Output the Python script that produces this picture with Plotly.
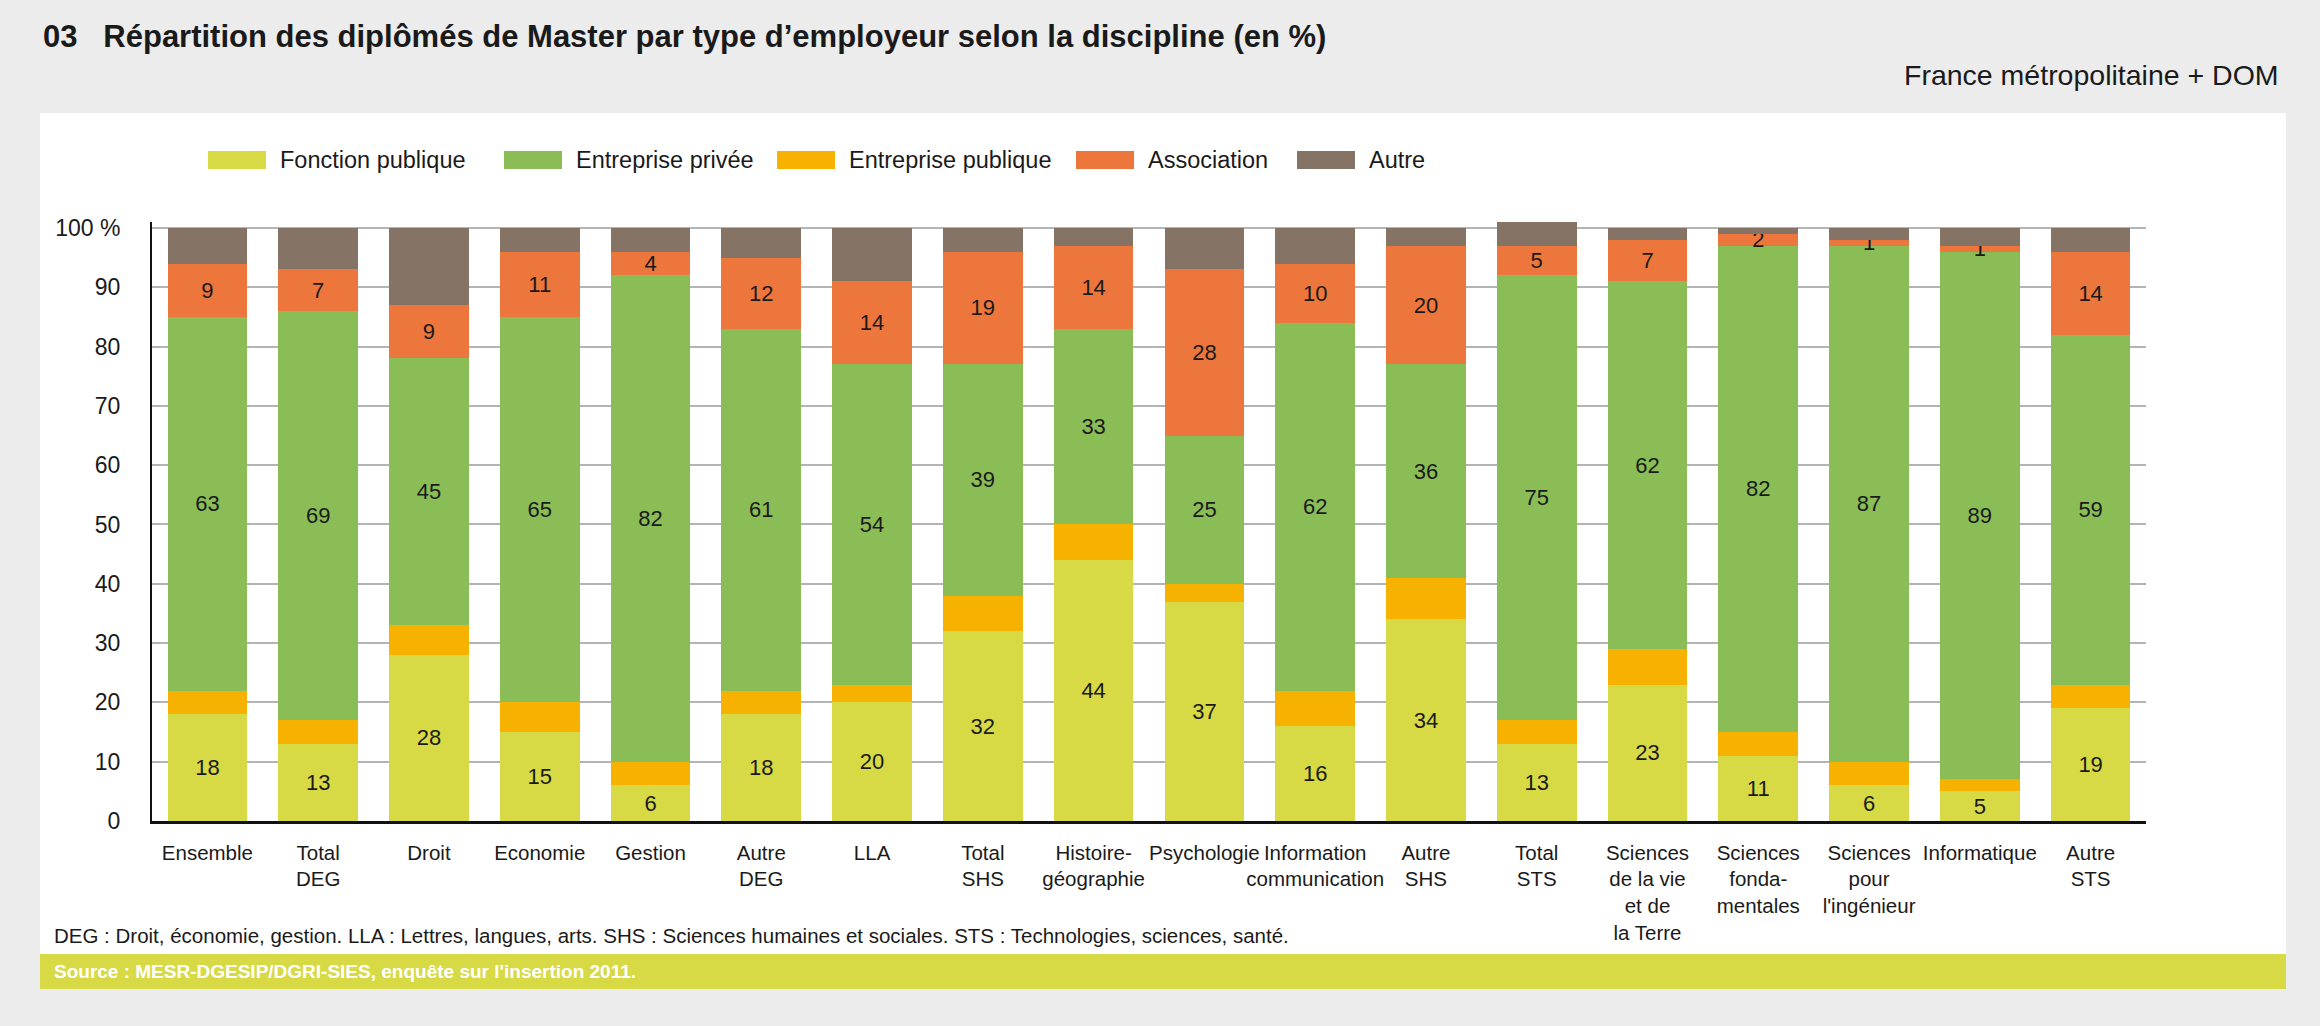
import plotly.graph_objects as go

# Values in % per discipline
categories = [
    'Ensemble', 'Total<br>DEG', 'Droit', 'Economie', 'Gestion', 'Autre<br>DEG', 'LLA',
    'Total<br>SHS', 'Histoire-<br>géographie', 'Psychologie', 'Information<br>communication',
    'Autre<br>SHS', 'Total<br>STS', 'Sciences<br>de la vie<br>et de<br>la Terre',
    'Sciences<br>fonda-<br>mentales', 'Sciences<br>pour<br>l\'ingénieur', 'Informatique',
    'Autre<br>STS',
]
fonction_publique = [18, 13, 28, 15, 6, 18, 20, 32, 44, 37, 16, 34, 13, 23, 11, 6, 5, 19]
entreprise_privee = [63, 69, 45, 65, 82, 61, 54, 39, 33, 25, 62, 36, 75, 62, 82, 87, 89, 59]
entreprise_publique = [4, 4, 5, 5, 4, 4, 3, 6, 6, 3, 6, 7, 4, 6, 4, 4, 2, 4]
association = [9, 7, 9, 11, 4, 12, 14, 19, 14, 28, 10, 20, 5, 7, 2, 1, 1, 14]
autre = [6, 7, 13, 4, 4, 5, 9, 4, 3, 7, 6, 3, 4, 2, 1, 2, 3, 4]

y_ticks = [0, 10, 20, 30, 40, 50, 60, 70, 80, 90, 100]
y_tick_labels = ['0', '10', '20', '30', '40', '50', '60', '70', '80', '90', '100 %']

# series order bottom -> top, with colour and whether values are printed
series = [
    ('Fonction publique', fonction_publique, '#d7da44', True),
    ('Entreprise publique', entreprise_publique, '#f7b200', False),
    ('Entreprise privée', entreprise_privee, '#8abd56', True),
    ('Association', association, '#ec763c', True),
    ('Autre', autre, '#857465', False),
]
legend_order = ['Fonction publique', 'Entreprise privée', 'Entreprise publique', 'Association', 'Autre']
colors = {name: color for name, _, color, _ in series}

FONT = 'Liberation Sans, Arial, Helvetica, sans-serif'
W, H = 2320, 1026
L, R, T, B = 152, 174, 222, 205
PW, PH = W - L - R, H - T - B


def px_x(x):
    return (x - L) / PW


def px_y(y):
    return 1 - (y - T) / PH


fig = go.Figure()
for name, values, color, labelled in series:
    fig.add_bar(
        x=categories,
        y=values,
        name=name,
        marker={'color': color, 'line': {'width': 0}},
        text=values if labelled else None,
        textposition='inside' if labelled else 'none',
        insidetextanchor='middle',
        textangle=0,
        constraintext='none',
        textfont={'family': FONT, 'size': 22, 'color': '#1a1a1a'},
        showlegend=False,
    )

shapes = [
    # white panel
    dict(type='rect', xref='paper', yref='paper', x0=px_x(40), x1=px_x(2286),
         y0=px_y(954), y1=px_y(113), fillcolor='white', line={'width': 0}, layer='below'),
    # source band
    dict(type='rect', xref='paper', yref='paper', x0=px_x(40), x1=px_x(2286),
         y0=px_y(989), y1=px_y(954), fillcolor='#d7da44', line={'width': 0}, layer='below'),
]
annotations = [
    dict(text='<b>03   Répartition des diplômés de Master par type d’employeur selon la discipline (en %)</b>',
         x=px_x(41), y=px_y(37), xanchor='left', yanchor='middle', font={'size': 31, 'color': '#1a1a1a'}),
    dict(text='France métropolitaine + DOM', x=px_x(2281), y=px_y(75), xanchor='right', yanchor='middle',
         font={'size': 28.5, 'color': '#1a1a1a'}),
    dict(text='DEG : Droit, économie, gestion. LLA : Lettres, langues, arts. SHS : Sciences humaines et '
              'sociales. STS : Technologies, sciences, santé.',
         x=px_x(52), y=px_y(935), xanchor='left', yanchor='middle', font={'size': 20.5, 'color': '#1a1a1a'}),
    dict(text='<b>Source : MESR-DGESIP/DGRI-SIES, enquête sur l\'insertion 2011.</b>',
         x=px_x(52), y=px_y(971), xanchor='left', yanchor='middle', font={'size': 19, 'color': 'white'}),
]

# hand-made legend with wide swatches like the original
legend_x = [208, 504, 777, 1076, 1297]
for name, lx in zip(legend_order, legend_x):
    shapes.append(dict(type='rect', xref='paper', yref='paper', x0=px_x(lx), x1=px_x(lx + 58),
                       y0=px_y(169), y1=px_y(151), fillcolor=colors[name], line={'width': 0}))
    annotations.append(dict(text=name, x=px_x(lx + 70), y=px_y(160), xanchor='left', yanchor='middle',
                            font={'size': 23.5, 'color': '#1a1a1a'}))

for a in annotations:
    a.update(xref='paper', yref='paper', showarrow=False)
    a['font'].setdefault('family', FONT)

fig.update_layout(
    width=W,
    height=H,
    barmode='stack',
    bargap=0.28,
    margin={'l': L, 'r': R, 't': T, 'b': B, 'pad': 0},
    paper_bgcolor='#ececec',
    plot_bgcolor='white',
    font={'family': FONT, 'size': 21, 'color': '#1a1a1a'},
    shapes=shapes,
    annotations=annotations,
    xaxis={
        'showline': True, 'linecolor': '#111111', 'linewidth': 3,
        'showgrid': False, 'tickfont': {'size': 20.5}, 'ticks': '', 'ticklabelstandoff': 11,
        'tickangle': 0, 'range': [-0.5, len(categories) - 0.5],
    },
    yaxis={
        'range': [0, 101], 'tickvals': y_ticks, 'ticktext': y_tick_labels,
        'showline': True, 'linecolor': '#111111', 'linewidth': 2,
        'showgrid': True, 'gridcolor': '#b4b4b4', 'gridwidth': 1.5, 'zeroline': False,
        'tickfont': {'size': 23}, 'ticks': '', 'ticklabelstandoff': 25,
    },
)

# drop the default page margin so the figure sits at the window corner
fig.write_html('out.html', config={'displayModeBar': False},
               post_script="document.body.style.margin='0';"
                           "document.body.style.background='#ececec';")
